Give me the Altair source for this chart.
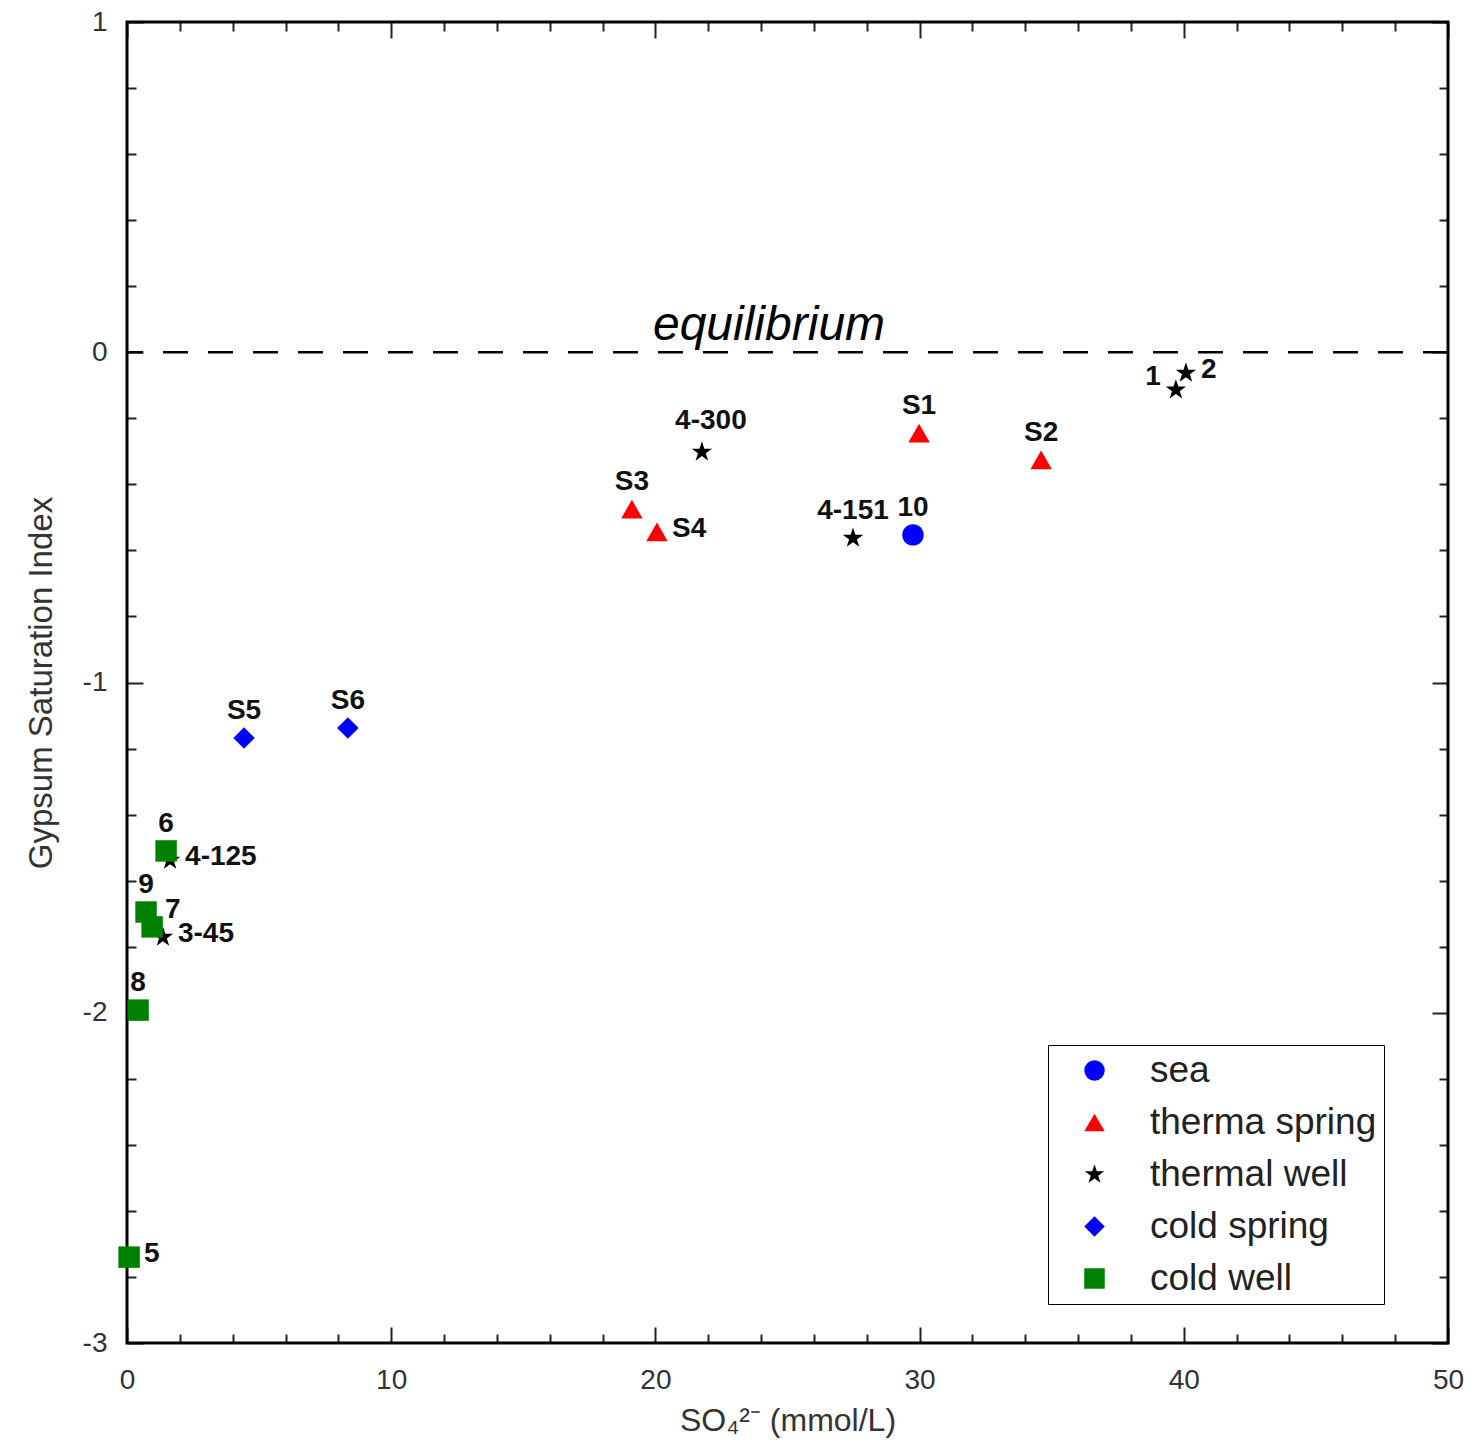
import altair as alt
import pandas as pd

# ---- data ----
names = ["10", "S1", "S2", "S3", "S4",
         "4-300", "4-151", "1", "2", "4-125", "3-45",
         "S5", "S6",
         "6", "9", "7", "8", "5"]
types = ["sea", "therma spring", "therma spring", "therma spring", "therma spring",
         "thermal well", "thermal well", "thermal well", "thermal well", "thermal well", "thermal well",
         "cold spring", "cold spring",
         "cold well", "cold well", "cold well", "cold well", "cold well"]
so4 = [29.75, 29.98, 34.6, 19.11, 20.06,
       21.76, 27.48, 39.7, 40.08, 1.63, 1.36,
       4.43, 8.36,
       1.48, 0.72, 0.95, 0.42, 0.08]
si = [-0.553, -0.245, -0.326, -0.475, -0.544,
      -0.302, -0.563, -0.114, -0.063, -1.538, -1.771,
      -1.168, -1.138,
      -1.510, -1.695, -1.740, -1.992, -2.740]

type_order = ["sea", "therma spring", "thermal well", "cold spring", "cold well"]
type_colors = ["#0000ff", "#ff0000", "#000000", "#0000ff", "#008000"]
STAR = ("M0,-1L0.2245,-0.309L0.951,-0.309L0.3633,0.118L0.5878,0.809L0,0.382"
        "L-0.5878,0.809L-0.3633,0.118L-0.951,-0.309L-0.2245,-0.309Z")
type_shapes = ["circle", "triangle-up", STAR, "diamond", "square"]

# label groups (which side of the marker the name is written)
labels_above = ["10", "S1", "S2", "S3", "4-151", "S5", "S6", "6", "9", "8"]
labels_aboveright = ["4-300"]
labels_right = ["S4", "2", "4-125", "3-45", "5"]
labels_left = ["1"]
labels_upright = ["7"]

x_major = [0, 10, 20, 30, 40, 50]
x_minor = [v for v in range(0, 51, 2) if v % 10 != 0]
y_major = [-3, -2, -1, 0, 1]
y_minor = [round(-3 + 0.2 * i, 1) for i in range(21) if i % 5 != 0]

equil_text = ["equilibrium"]
equil_x = [24.3]
equil_y = [0.037]

df = pd.DataFrame({"name": names, "type": types, "so4": so4, "si": si})
eq_df = pd.DataFrame({"t": equil_text, "x": equil_x, "y": equil_y})
zero_df = pd.DataFrame({"y": [0]})

FONT = "Liberation Sans"
W = 1321
H = 1321
MAJ = 16
MIN = 9

xscale = alt.Scale(domain=[0, 50], nice=False, zero=False)
yscale = alt.Scale(domain=[-3, 1], nice=False, zero=False)

common = dict(tickWidth=2, tickColor="#222", domain=False, grid=False)

x_axis = alt.Axis(orient="bottom", values=x_major, offset=-MAJ, tickSize=MAJ,
                  labelExpr="datum.value + ''",
                  labelFontSize=28, labelFont=FONT, labelColor="#333", labelPadding=23,
                  labelOverlap=False, labelFlush=False,
                  title="SO\u2084\u00b2\u207b (mmol/L)", titleFontSize=32, titleFont=FONT,
                  titleFontWeight="normal", titleColor="#333", titlePadding=11, **common)
y_axis = alt.Axis(orient="left", values=y_major, offset=-MAJ, tickSize=MAJ,
                  labelExpr="datum.value + ''",
                  labelFontSize=28, labelFont=FONT, labelColor="#333", labelPadding=20,
                  labelOverlap=False, labelFlush=False,
                  title="Gypsum Saturation Index", titleFontSize=33, titleFont=FONT,
                  titleFontWeight="normal", titleColor="#333", titlePadding=24, **common)


def tick_axis(orient, values, size):
    return alt.Axis(orient=orient, values=values, offset=-size, tickSize=size,
                    labels=False, title=None, **common)


base = alt.Chart(df)

points = base.mark_point(filled=True, opacity=1, size=460).encode(
    x=alt.X("so4:Q", scale=xscale, axis=x_axis),
    y=alt.Y("si:Q", scale=yscale, axis=y_axis),
    color=alt.Color("type:N", scale=alt.Scale(domain=type_order, range=type_colors),
                    legend=alt.Legend(title=None, orient="none", legendX=921, legendY=1023,
                                      strokeColor="black", padding=7, fillColor="white",
                                      labelFontSize=37, labelFont=FONT, labelColor="#222",
                                      symbolSize=420, symbolStrokeWidth=0, symbolOffset=21,
                                      labelOffset=37, rowPadding=14, labelLimit=400)),
    shape=alt.Shape("type:N", scale=alt.Scale(domain=type_order, range=type_shapes)),
)


def tick_layer(xo, xv, xs, yo, yv, ys):
    return base.mark_point(opacity=0).encode(
        x=alt.X("so4:Q", scale=xscale, axis=tick_axis(xo, xv, xs)),
        y=alt.Y("si:Q", scale=yscale, axis=tick_axis(yo, yv, ys)),
    )


ticks_top_major = tick_layer("top", x_major, MAJ, "right", y_major, MAJ)
ticks_bot_minor = tick_layer("bottom", x_minor, MIN, "left", y_minor, MIN)
ticks_top_minor = tick_layer("top", x_minor, MIN, "right", y_minor, MIN)

# plot frame (box around the plot area)
frame = alt.Chart(zero_df).mark_rect(fillOpacity=0, stroke="black", strokeWidth=3).encode(
    x=alt.value(0), x2=alt.value(W), y=alt.value(0), y2=alt.value(H))

zero_line = alt.Chart(zero_df).mark_rule(color="black", strokeWidth=2.5,
                                         strokeDash=[25, 20]).encode(
    y=alt.Y("y:Q", scale=yscale, axis=None)
)

eq_label = alt.Chart(eq_df).mark_text(fontSize=48, fontStyle="italic", font=FONT,
                                      align="center", baseline="alphabetic",
                                      color="black").encode(
    x=alt.X("x:Q", scale=xscale, axis=None), y=alt.Y("y:Q", scale=yscale, axis=None),
    text="t:N")

tstyle = dict(fontSize=28, fontWeight="bold", font=FONT, color="#111")


def txt():
    return base.encode(x=alt.X("so4:Q", scale=xscale, axis=None),
                       y=alt.Y("si:Q", scale=yscale, axis=None),
                       text="name:N")


t_above = txt().mark_text(align="center", baseline="middle", dy=-27, **tstyle).transform_filter(
    alt.FieldOneOfPredicate(field="name", oneOf=labels_above))
t_aboveright = txt().mark_text(align="center", baseline="middle", dx=9, dy=-31, **tstyle).transform_filter(
    alt.FieldOneOfPredicate(field="name", oneOf=labels_aboveright))
t_right = txt().mark_text(align="left", baseline="middle", dx=15, dy=-3, **tstyle).transform_filter(
    alt.FieldOneOfPredicate(field="name", oneOf=labels_right))
t_left = txt().mark_text(align="right", baseline="middle", dx=-15, dy=-13, **tstyle).transform_filter(
    alt.FieldOneOfPredicate(field="name", oneOf=labels_left))
t_upright = txt().mark_text(align="left", baseline="middle", dx=13, dy=-17, **tstyle).transform_filter(
    alt.FieldOneOfPredicate(field="name", oneOf=labels_upright))

chart = alt.layer(
    frame, points, ticks_top_major, ticks_bot_minor, ticks_top_minor, zero_line, eq_label,
    t_above, t_aboveright, t_right, t_left, t_upright
).resolve_axis(x="independent", y="independent").properties(
    width=W, height=H,
    autosize=alt.AutoSizeParams(type="none"),
    padding={"left": 119, "top": 14, "right": 20, "bottom": 100},
).configure_view(stroke="#000000", strokeWidth=3).configure(background="white")

chart.save("out.html", embed_options={"renderer": "svg", "actions": False})
